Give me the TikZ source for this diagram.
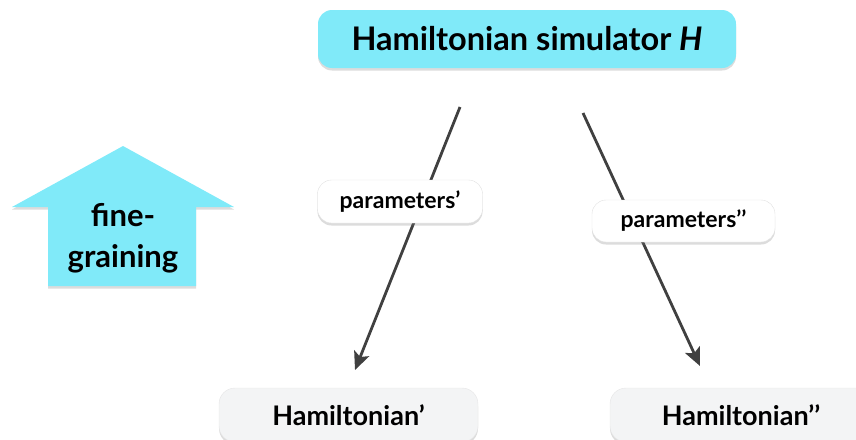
\documentclass[tikz,border=0pt]{standalone}
\usepackage{fontspec}
\setmainfont{Lato}
\usetikzlibrary{arrows.meta,shadows}
\definecolor{simcyan}{HTML}{80EAF9}
\definecolor{linkgray}{HTML}{404040}
\definecolor{boxgray}{HTML}{F3F4F5}
\tikzset{
  softshadow/.style={drop shadow={opacity=0.28, shadow xshift=0pt, shadow yshift=-2.5pt}},
  simbox/.style={rounded corners=14pt, fill=simcyan, softshadow, font=\bfseries\fontsize{32.5}{38}\selectfont, inner sep=0pt},
  parambox/.style={rounded corners=14pt, fill=white, draw=black!12, softshadow, font=\bfseries\fontsize{23}{27}\selectfont, inner sep=0pt},
  resultbox/.style={rounded corners=16pt, fill=boxgray, draw=black!10, softshadow, font=\bfseries\fontsize{27}{32}\selectfont, inner sep=0pt},
  grainlabel/.style={font=\bfseries\fontsize{31}{35}\selectfont},
  link/.style={draw=linkgray, line width=2.8pt, -{Stealth[length=18pt,width=16pt,inset=4pt]}},
}
\begin{document}
\begin{tikzpicture}[x=1pt,y=-1pt]
\useasboundingbox (0,0) rectangle (856,439);

% fine-graining arrow
\fill[simcyan, softshadow] (123,146) -- (234,207) -- (196,207) -- (196,286) -- (48,286) -- (48,207) -- (12,207) -- cycle;
\node[grainlabel] (fine) at (123,215) {fine-};
\node[grainlabel] (grain) at (123,259) {graining};

% simulator and results
\node[simbox, minimum width=418pt, minimum height=58pt] (sim) at (527,39) {Hamiltonian simulator \textit{H}};
\node[resultbox, minimum width=259pt, minimum height=54pt] (h1) at (348.5,415) {Hamiltonian’};
\node[resultbox, minimum width=262pt, minimum height=54pt] (h2) at (741,415) {Hamiltonian’’};

% connector ends
\coordinate (s1) at (460,107);
\coordinate (e1) at (355,370);
\coordinate (s2) at (583,113);
\coordinate (e2) at (700,366);
\draw[link] (s1) -- (e1);
\draw[link] (s2) -- (e2);

% parameter labels on top of the connectors
\node[parambox, minimum width=165pt, minimum height=43pt] (p1) at (400,201.5) {parameters’};
\node[parambox, minimum width=183pt, minimum height=42pt] (p2) at (683.5,221) {parameters’’};
\end{tikzpicture}
\end{document}
